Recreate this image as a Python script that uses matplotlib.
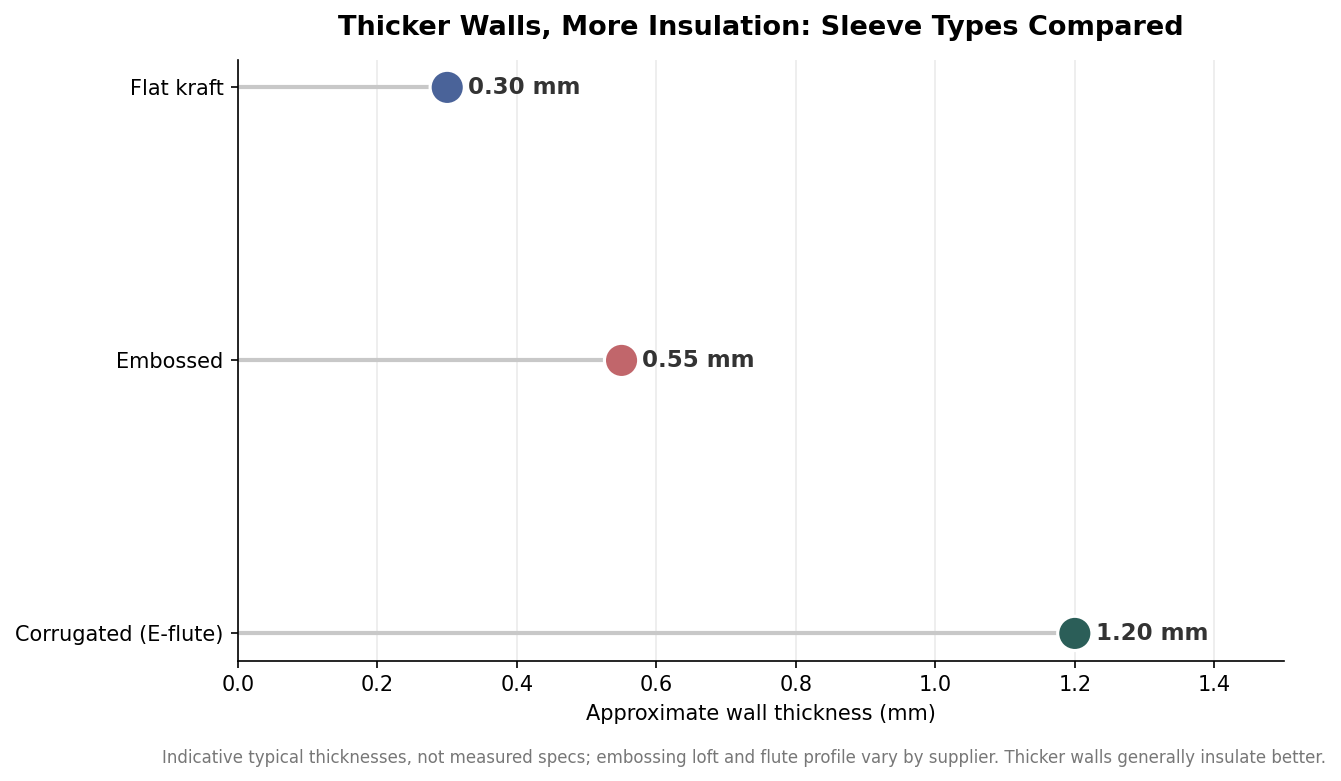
import numpy as np
import matplotlib.pyplot as plt

categories = ["Corrugated (E-flute)", "Embossed", "Flat kraft"]
thickness = [1.20, 0.55, 0.30]
colors = ["#2b5e58", "#c1666b", "#4a6399"]

fig, ax = plt.subplots(figsize=(8.94, 5.207), dpi=150)
fig.subplots_adjust(left=0.1775, right=0.9575, top=0.923, bottom=0.154)

y = np.arange(len(categories))
ax.hlines(y, 0, thickness, color="#c8c8c8", linewidth=2, zorder=2)
ax.scatter(thickness, y, s=270, c=colors, edgecolors="white", linewidths=1.5, zorder=3)
for xi, yi in zip(thickness, y):
    ax.text(xi + 0.03, yi, f"{xi:.2f} mm", va="center", ha="left",
            fontsize=11, fontweight="bold", color="#333333", zorder=4)

ax.set_yticks(y)
ax.set_yticklabels(categories, fontsize=10)
ax.set_xlim(0, 1.5)
ax.set_ylim(-0.1, 2.1)
ax.set_xticks(np.arange(0, 1.41, 0.2))
ax.tick_params(axis="x", labelsize=10)
ax.xaxis.grid(True, color="#ebebeb", linewidth=0.8, zorder=0)
ax.set_axisbelow(True)
ax.spines["top"].set_visible(False)
ax.spines["right"].set_visible(False)
ax.set_xlabel("Approximate wall thickness (mm)", fontsize=10)
ax.set_title("Thicker Walls, More Insulation: Sleeve Types Compared",
             fontsize=13, fontweight="bold", pad=12)

fig.text(0.9885, 0.018,
         "Indicative typical thicknesses, not measured specs; embossing loft and flute profile vary by supplier. "
         "Thicker walls generally insulate better.",
         ha="right", va="bottom", fontsize=8, color="#777777")

fig.savefig("out.png", dpi=150)
